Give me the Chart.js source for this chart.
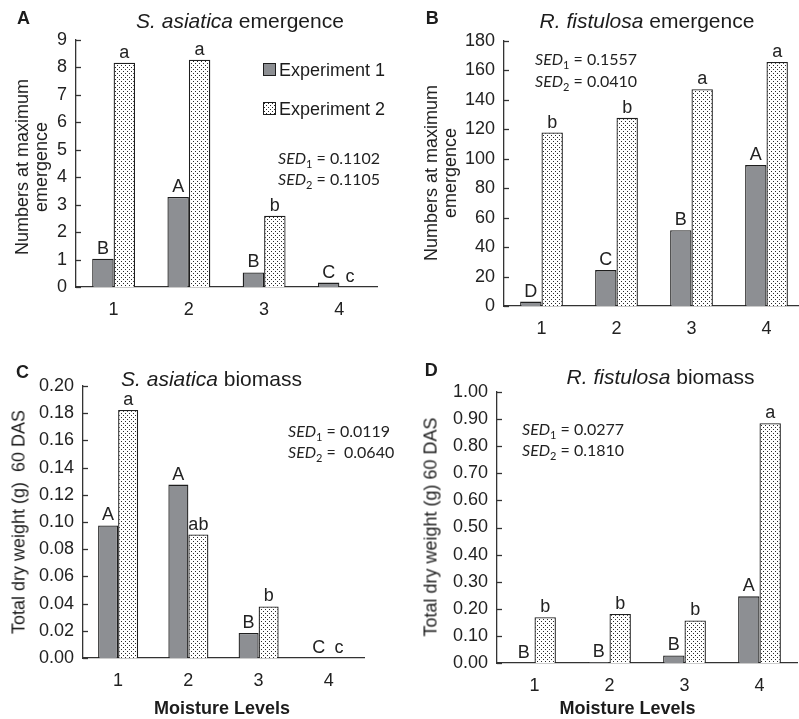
<!DOCTYPE html>
<html>
<head>
<meta charset="utf-8">
<script src="https://cdn.jsdelivr.net/npm/chart.js@4.4.0/dist/chart.umd.min.js"></script>
<style>
  html, body { margin: 0; padding: 0; background: #fff; overflow: hidden; }
  body { width: 799px; height: 719px; position: relative; font-family: "Liberation Sans", Arial, sans-serif; color: #1c1c1c; }
  canvas.panel { position: absolute; left: 0; top: 0; }
  .txt { position: absolute; white-space: nowrap; line-height: 1; }
  .letter { font-weight: bold; font-size: 18px; }
  .title { font-size: 21px; transform: translateX(-50%); }
  .ytitle { font-size: 18px; line-height: 19px; text-align: center; transform: translate(-50%, -50%) rotate(-90deg); }
  .xtitle { font-weight: bold; font-size: 18px; transform: translate(-50%, -50%); }
  .sed { font-family: Lato, "Open Sans", sans-serif; font-size: 16px; line-height: 19px; color: #222; }
  .sed .sb { font-size: 11px; position: relative; top: 4px; }
  .legend { font-size: 18px; }
  canvas.swatch { position: absolute; }
</style>
</head>
<body>
<canvas id="chartA" class="panel" width="810" height="719"></canvas>
<canvas id="chartB" class="panel" width="810" height="719"></canvas>
<canvas id="chartC" class="panel" width="810" height="719"></canvas>
<canvas id="chartD" class="panel" width="810" height="719"></canvas>

<div class="txt letter" style="left:17px;top:8.7px">A</div>
<div class="txt letter" style="left:425.7px;top:8.7px">B</div>
<div class="txt letter" style="left:16px;top:362.6px">C</div>
<div class="txt letter" style="left:424.7px;top:360.6px">D</div>

<div class="txt title" style="left:240px;top:10.3px"><i>S. asiatica</i> emergence</div>
<div class="txt title" style="left:647px;top:10.3px"><i>R. fistulosa</i> emergence</div>
<div class="txt title" style="left:211.5px;top:368px"><i>S. asiatica</i> biomass</div>
<div class="txt title" style="left:660.5px;top:365.6px"><i>R. fistulosa</i> biomass</div>

<div class="txt ytitle" style="left:31.5px;top:167px">Numbers at maximum<br>emergence</div>
<div class="txt ytitle" style="left:441px;top:173px">Numbers at maximum<br>emergence</div>
<div class="txt ytitle" style="left:19px;top:522px">Total dry weight (g)&nbsp;&nbsp;60 DAS</div>
<div class="txt ytitle" style="left:431px;top:527px">Total dry weight (g) 60 DAS</div>

<div class="txt xtitle" style="left:222px;top:708px">Moisture Levels</div>
<div class="txt xtitle" style="left:627.5px;top:708px">Moisture Levels</div>

<div class="txt sed" style="left:278px;top:148px"><i>SED</i><span class="sb">1</span> = 0.1102<br><i>SED</i><span class="sb">2</span> = 0.1105</div>
<div class="txt sed" style="left:535px;top:49px;line-height:20px"><i>SED</i><span class="sb">1</span> = 0.1557<br><i>SED</i><span class="sb">2</span> = 0.0410</div>
<div class="txt sed" style="left:288px;top:421px"><i>SED</i><span class="sb">1</span> = 0.0119<br><i>SED</i><span class="sb">2</span> =&nbsp; 0.0640</div>
<div class="txt sed" style="left:522px;top:418.5px"><i>SED</i><span class="sb">1</span> = 0.0277<br><i>SED</i><span class="sb">2</span> = 0.1810</div>

<canvas id="sw1" class="swatch" width="13" height="13" style="left:263px;top:63px"></canvas>
<canvas id="sw2" class="swatch" width="13" height="13" style="left:263px;top:102px"></canvas>
<div class="txt legend" style="left:279px;top:60.5px">Experiment 1</div>
<div class="txt legend" style="left:279px;top:99.5px">Experiment 2</div>

<script>
// moisture levels on the x axis
const levels = ["1", "2", "3", "4"];

// A: S. asiatica emergence (numbers at maximum emergence)
const saEmergExp1 = [1.03, 3.28, 0.53, 0.16];
const saEmergExp2 = [8.17, 8.28, 2.6, 0];
const saEmergLetters1 = ["B", "A", "B", "C"];
const saEmergLetters2 = ["a", "a", "b", "c"];

// B: R. fistulosa emergence
const rfEmergExp1 = [3, 24.4, 51.5, 95.7];
const rfEmergExp2 = [117.8, 127.8, 147.3, 165.8];
const rfEmergLetters1 = ["D", "C", "B", "A"];
const rfEmergLetters2 = ["b", "b", "a", "a"];

// C: S. asiatica biomass, total dry weight (g) 60 DAS
const saBioExp1 = [0.0975, 0.1275, 0.0184, 0];
const saBioExp2 = [0.1824, 0.0908, 0.0379, 0];
const saBioLetters1 = ["A", "A", "B", "C"];
const saBioLetters2 = ["a", "ab", "b", "c"];

// D: R. fistulosa biomass
const rfBioExp1 = [0, 0.003, 0.028, 0.246];
const rfBioExp2 = [0.169, 0.181, 0.157, 0.885];
const rfBioLetters1 = ["B", "B", "B", "A"];
const rfBioLetters2 = ["b", "b", "b", "a"];

const seriesNames = ["Experiment 1", "Experiment 2"];

const FONT = '"Liberation Sans", Arial, sans-serif';
const INK = "#222";
const AXIS = "#333";
const GREY = "#8d8f93";
const EDGE = "#1e1e1e";

Chart.defaults.font.family = FONT;

function dotPattern() {
  const tile = document.createElement("canvas");
  tile.width = 4;
  tile.height = 4;
  const t = tile.getContext("2d");
  t.fillStyle = "#fff";
  t.fillRect(0, 0, 4, 4);
  t.fillStyle = "#2a2a2a";
  t.fillRect(1, 1, 1, 1);
  t.fillRect(3, 3, 1, 1);
  return tile;
}
const tile = dotPattern();

// letters above the bars, placed from the bar elements
const barLetters = {
  id: "barLetters",
  afterDatasetsDraw(chart) {
    const ctx = chart.ctx;
    ctx.save();
    ctx.font = "18px " + FONT;
    ctx.fillStyle = INK;
    ctx.textAlign = "center";
    ctx.textBaseline = "alphabetic";
    chart.data.datasets.forEach((ds, i) => {
      chart.getDatasetMeta(i).data.forEach((bar, j) => {
        ctx.fillText(ds.letters[j], bar.x, bar.y - 5);
      });
    });
    ctx.restore();
  },
};

// short tick marks pointing into the plot
const innerTicks = {
  id: "innerTicks",
  afterDraw(chart) {
    const y = chart.scales.y;
    const ctx = chart.ctx;
    const left = chart.chartArea.left;
    ctx.save();
    ctx.strokeStyle = AXIS;
    ctx.lineWidth = 1.3;
    y.ticks.forEach((t, i) => {
      const py = Math.round(y.getPixelForTick(i)) + 0.5;
      ctx.beginPath();
      ctx.moveTo(left, py);
      ctx.lineTo(left + 5, py);
      ctx.stroke();
    });
    ctx.restore();
  },
};

function makePanel(id, area, yMax, yStep, decimals, exp1, exp2, letters1, letters2) {
  const canvas = document.getElementById(id);
  const ctx = canvas.getContext("2d");
  return new Chart(ctx, {
    type: "bar",
    data: {
      labels: levels,
      datasets: [
        {
          label: seriesNames[0],
          data: exp1,
          letters: letters1,
          backgroundColor: GREY,
          borderColor: EDGE,
          borderWidth: 1.3,
        },
        {
          label: seriesNames[1],
          data: exp2,
          letters: letters2,
          backgroundColor: ctx.createPattern(tile, "repeat"),
          borderColor: EDGE,
          borderWidth: 1.3,
        },
      ],
    },
    options: {
      responsive: false,
      animation: false,
      devicePixelRatio: 1,
      layout: {
        padding: {
          left: 0,
          top: area.top,
          right: canvas.width - area.right,
          bottom: canvas.height - area.bottom - 40,
        },
      },
      datasets: {
        bar: { categoryPercentage: 0.57, barPercentage: 1 },
      },
      scales: {
        x: {
          grid: { display: false, drawTicks: false },
          border: { display: true, color: AXIS, width: 1.3 },
          ticks: { color: INK, padding: 12, maxRotation: 0, font: { size: 18 } },
          afterFit(s) {
            s.height = 40;
          },
        },
        y: {
          min: 0,
          max: yMax,
          grid: { display: false, drawTicks: false },
          border: { display: true, color: AXIS, width: 1.3 },
          ticks: {
            stepSize: yStep,
            color: INK,
            padding: 9,
            font: { size: 18 },
            callback: (v) => Number(v).toFixed(decimals),
          },
          afterFit(s) {
            s.width = area.left;
          },
        },
      },
      plugins: {
        legend: { display: false },
        tooltip: { enabled: false },
        title: { display: false },
      },
    },
    plugins: [barLetters, innerTicks],
  });
}

makePanel("chartA", { left: 76, right: 377, top: 40, bottom: 287 }, 9, 1, 0,
  saEmergExp1, saEmergExp2, saEmergLetters1, saEmergLetters2);
makePanel("chartB", { left: 504, right: 804, top: 41, bottom: 306 }, 180, 20, 0,
  rfEmergExp1, rfEmergExp2, rfEmergLetters1, rfEmergLetters2);
makePanel("chartC", { left: 83, right: 364, top: 386, bottom: 658 }, 0.2, 0.02, 2,
  saBioExp1, saBioExp2, saBioLetters1, saBioLetters2);
makePanel("chartD", { left: 497, right: 797, top: 392, bottom: 663 }, 1, 0.1, 2,
  rfBioExp1, rfBioExp2, rfBioLetters1, rfBioLetters2);

// legend swatches
function swatch(id, fill) {
  const c = document.getElementById(id).getContext("2d");
  c.fillStyle = fill === "pattern" ? c.createPattern(tile, "repeat") : fill;
  c.fillRect(0.5, 0.5, 12, 12);
  c.strokeStyle = EDGE;
  c.lineWidth = 1;
  c.strokeRect(0.5, 0.5, 12, 12);
}
swatch("sw1", GREY);
swatch("sw2", "pattern");
</script>
</body>
</html>
